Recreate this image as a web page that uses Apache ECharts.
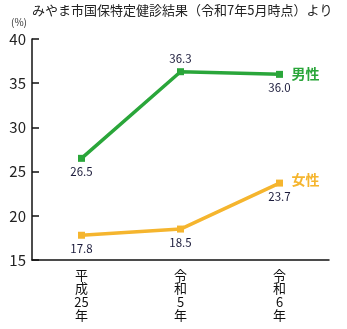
<!DOCTYPE html>
<html><head><meta charset="utf-8">
<script src="https://cdn.jsdelivr.net/npm/echarts@6/dist/echarts.min.js"></script>
<style>html,body{margin:0;padding:0;background:#fff}#c{width:347px;height:329px}</style>
</head><body><div id="c"></div>
<script>
const categories = ['平\n成\n25\n年', '令\n和\n5\n年', '令\n和\n6\n年'];
const male = [26.5, 36.3, 36.0];
const female = [17.8, 18.5, 23.7];
const maleLabelPos = ['bottom', 'top', 'bottom'];
const femaleLabelPos = ['bottom', 'bottom', 'bottom'];
const yTicks = [15, 20, 25, 30, 35, 40];

const font = '"Noto Sans CJK JP", "Noto Sans", sans-serif';
const chart = echarts.init(document.getElementById('c'));
function mk(vals, pos){
  return vals.map((v,i)=>({value:v, label:{position:pos[i]}}));
}
chart.setOption({
  animation:false,
  textStyle:{fontFamily:font},
  graphic:[
    {type:'text', left:32, top:4, style:{text:'みやま市国保特定健診結果（令和7年5月時点）より', fontSize:13, fill:'#222', fontFamily:font}},
    {type:'text', left:11, top:17, style:{text:'(%)', fontSize:10, fill:'#333', fontFamily:font}}
  ],
  grid:{left:32, right:18, top:39, bottom:69},
  xAxis:{type:'category', data:categories, boundaryGap:true,
    axisLine:{lineStyle:{color:'#111', width:1.5}},
    axisTick:{show:false},
    axisLabel:{color:'#111', fontSize:13, lineHeight:13.5, margin:8, fontFamily:font}},
  yAxis:{type:'value', min:yTicks[0], max:yTicks[yTicks.length-1], interval:5,
    axisLine:{show:true, lineStyle:{color:'#111', width:1.5}},
    axisTick:{show:true, inside:true, length:7, lineStyle:{color:'#111', width:1.5}},
    splitLine:{show:false},
    axisLabel:{color:'#222', fontSize:15, margin:6, fontFamily:font}},
  series:[
    {name:'男性', type:'line', data:mk(male, maleLabelPos), symbol:'rect', symbolSize:7,
     lineStyle:{color:'#2aa63a', width:3.5}, itemStyle:{color:'#2aa63a'},
     label:{show:true, color:'#1a1a3a', fontSize:11.5, distance:4, formatter:p=>p.value.toFixed(1)},
     endLabel:{show:true, formatter:'{a}', color:'#2aa63a', fontSize:14, fontWeight:'bold', distance:12, offset:[0,-1]}},
    {name:'女性', type:'line', data:mk(female, femaleLabelPos), symbol:'rect', symbolSize:7,
     lineStyle:{color:'#f5b52e', width:3.5}, itemStyle:{color:'#f5b52e'},
     label:{show:true, color:'#1a1a3a', fontSize:11.5, distance:4, formatter:p=>p.value.toFixed(1)},
     endLabel:{show:true, formatter:'{a}', color:'#f5b52e', fontSize:14, fontWeight:'bold', distance:12, offset:[0,-3]}}
  ]
});
</script></body></html>
